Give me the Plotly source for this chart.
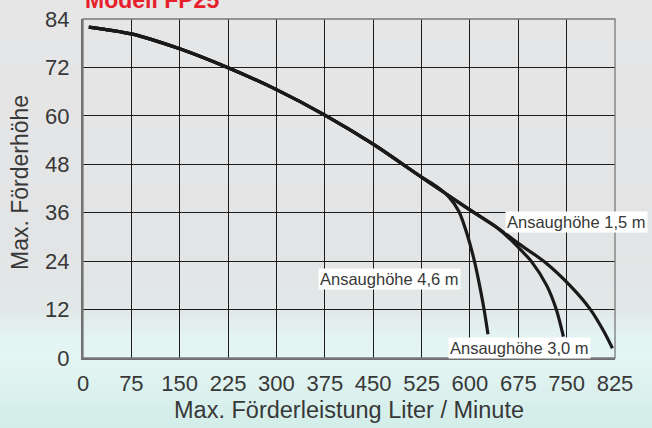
import plotly.graph_objects as go

# ---------------- data ----------------
x_ticks = list(range(0, 826, 75))
y_ticks = list(range(0, 85, 12))

flow_15 = [9, 75, 150, 225, 300, 375, 450, 525, 560, 600, 640, 675, 716, 755, 787, 808, 821]
head_15 = [82.0, 80.3, 76.6, 71.9, 66.5, 60.2, 53.0, 44.8, 41.0, 36.7, 32.6, 28.4, 23.8, 18.0, 12.0, 6.5, 2.4]

flow_30 = [9, 75, 150, 225, 300, 375, 450, 525, 560, 600, 640, 660, 680, 695, 719, 734, 745]
head_30 = [82.0, 80.3, 76.6, 71.9, 66.5, 60.2, 53.0, 44.8, 41.0, 36.7, 32.5, 29.8, 26.6, 24.0, 18.0, 12.0, 5.3]

flow_46 = [9, 75, 150, 225, 300, 375, 450, 525, 550, 568, 583, 596, 607, 615, 622, 628]
head_46 = [82.0, 80.3, 76.6, 71.9, 66.5, 60.2, 53.0, 44.8, 42.3, 39.8, 36.3, 30.5, 24.0, 18.0, 12.0, 5.9]

labels = ["Ansaughöhe 1,5 m", "Ansaughöhe 4,6 m", "Ansaughöhe 3,0 m"]
label_x = [654, 364, 566]
label_y = [33.8, 19.7, 2.6]

title_text = "Modell FP25"
x_title = "Max. Förderleistung Liter / Minute"
y_title = "Max. Förderhöhe"

# ---------------- layout geometry ----------------
W, H = 652, 428
L, R, T, B = 83, 37, 19, 70
PH = H - T - B
PW = W - L - R

FONT = "Liberation Sans"
TXT = "#383838"

fig = go.Figure()
for fx, hy in [(flow_15, head_15), (flow_30, head_30), (flow_46, head_46)]:
    fig.add_trace(go.Scatter(x=fx, y=hy, mode="lines",
                             line=dict(color="#1a1a1a", width=3.2, shape="spline", smoothing=0.8),
                             hoverinfo="skip", showlegend=False))

# background gradient (styling only)
stops = [(0, (230, 230, 231)), (250, (227, 228, 229)), (310, (226, 232, 232)),
         (335, (226, 243, 241)), (360, (228, 245, 243)), (428, (210, 237, 233))]

def col(p):
    for (p0, c0), (p1, c1) in zip(stops[:-1], stops[1:]):
        if p0 <= p <= p1:
            t = (p - p0) / (p1 - p0) if p1 > p0 else 0
            return "rgb(%d,%d,%d)" % tuple(round(a + (b - a) * t) for a, b in zip(c0, c1))
    return "rgb(%d,%d,%d)" % stops[-1][1]

shapes = []
step = 4
for p in range(0, H, step):
    y0 = (H - B - (p + step)) / PH
    y1 = (H - B - p) / PH
    shapes.append(dict(type="rect", xref="paper", yref="paper",
                       x0=-L / PW - 0.01, x1=1 + R / PW + 0.01,
                       y0=y0, y1=y1 + 0.002, fillcolor=col(p + step / 2),
                       line=dict(width=0), layer="below"))
# plot frame (top/right)
shapes.append(dict(type="rect", xref="paper", yref="paper", x0=0, x1=1, y0=0, y1=1,
                   line=dict(color="#7a7a7a", width=1.3), fillcolor="rgba(0,0,0,0)", layer="above"))

annotations = []
for t, lx, ly in zip(labels, label_x, label_y):
    annotations.append(dict(x=lx, y=ly, xref="x", yref="y", text=t, showarrow=False,
                            xanchor="left", yanchor="middle", bgcolor="white", borderpad=1,
                            font=dict(family=FONT, size=16.5, color=TXT)))
annotations.append(dict(x=0, y=1 + 4 / PH, xref="paper", yref="paper", text="<b>%s</b>" % title_text,
                        showarrow=False, xanchor="left", yanchor="bottom",
                        font=dict(family="Liberation Sans", size=23, color="#e8202c")))
annotations.append(dict(x=(348.5 - L) / PW, y=(H - B - 410) / PH, xref="paper", yref="paper",
                        text=x_title, showarrow=False, xanchor="center", yanchor="middle",
                        font=dict(family=FONT, size=23.5, color=TXT)))
annotations.append(dict(x=(20 - L) / PW, y=(H - B - 183) / PH, xref="paper", yref="paper",
                        text=y_title, showarrow=False, xanchor="center", yanchor="middle", textangle=-90,
                        font=dict(family=FONT, size=23, color=TXT)))

axis_common = dict(showgrid=True, gridcolor="#1c1c1c", gridwidth=1.2, zeroline=False,
                   showline=True, linecolor="#6e6e6e", linewidth=2, ticks="", automargin=False,
                   tickfont=dict(family=FONT, size=22, color=TXT))

fig.update_layout(
    width=W, height=H, margin=dict(l=L, r=R, t=T, b=B),
    paper_bgcolor="rgb(230,230,231)", plot_bgcolor="rgba(0,0,0,0)",
    xaxis=dict(range=[0, 825], tickvals=x_ticks, ticktext=[str(v) for v in x_ticks],
               ticklabelstandoff=5, **axis_common),
    yaxis=dict(range=[0, 84], tickvals=y_ticks, ticktext=[str(v) for v in y_ticks],
               ticklabelstandoff=7, **axis_common),
    shapes=shapes, annotations=annotations,
)

fig.write_html("out.html", config={"displayModeBar": False},
               post_script="document.body.style.margin='0';document.body.style.background='rgb(230,230,231)';")
